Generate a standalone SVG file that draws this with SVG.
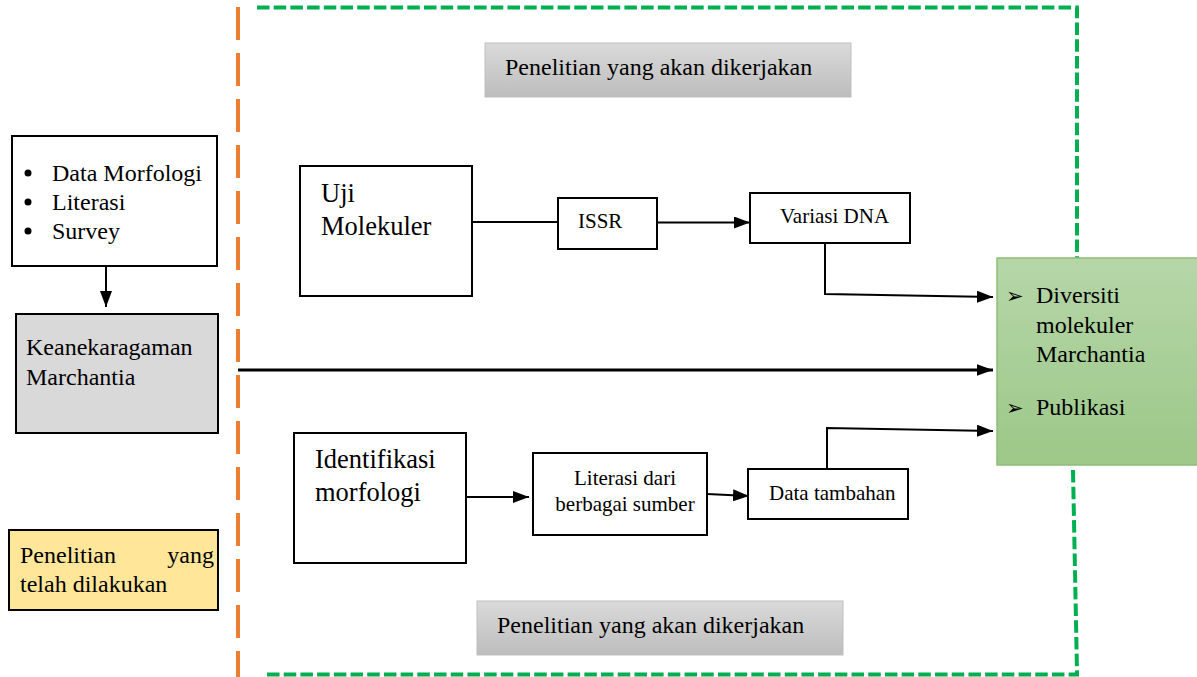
<svg xmlns="http://www.w3.org/2000/svg" width="1197" height="677" viewBox="0 0 1197 677">
<style>
.box{fill:#fff;stroke:#000;stroke-width:2}
.t{font-family:"Liberation Serif","Times New Roman",serif;fill:#000}
.c{fill:none;stroke:#000;stroke-width:2}
.b{font-family:"DejaVu Sans",sans-serif;font-size:21px;fill:#000}
</style>
<defs>
<linearGradient id="gray" x1="0" y1="0" x2="0" y2="1"><stop offset="0" stop-color="#dadada"/><stop offset="1" stop-color="#bdbdbd"/></linearGradient>
<linearGradient id="green" x1="0" y1="0" x2="0" y2="1"><stop offset="0" stop-color="#b6d6a8"/><stop offset="1" stop-color="#9cc888"/></linearGradient>
<marker id="ah" markerWidth="8" markerHeight="6" refX="8" refY="3" orient="auto" markerUnits="strokeWidth"><path d="M0,0 L8,3 L0,6 z" fill="#000"/></marker>
<marker id="ah2" markerWidth="5.5" markerHeight="4" refX="5.5" refY="2" orient="auto" markerUnits="strokeWidth"><path d="M0,0 L5.5,2 L0,4 z" fill="#000"/></marker>
</defs>
<rect width="1197" height="677" fill="#fff"/>

<g id="frames">
<line x1="238" y1="7" x2="238" y2="677" stroke="#ed7d31" stroke-width="4" stroke-dasharray="33 13"/>
<path d="M257,7.5 L1077,7.5 L1077,258" fill="none" stroke="#00b050" stroke-width="4" stroke-dasharray="12.5 4.2"/>
<path d="M1073,470 L1077,672 L1077,674.5 L267,674.5" fill="none" stroke="#00b050" stroke-width="4" stroke-dasharray="12.5 4.2"/>
</g>

<g id="connectors">
<line class="c" x1="106" y1="266" x2="106" y2="307" marker-end="url(#ah)"/>
<line x1="238" y1="370" x2="993" y2="370" stroke="#000" stroke-width="3" marker-end="url(#ah2)"/>
<line class="c" x1="472" y1="222" x2="558" y2="222"/>
<line class="c" x1="657" y1="222.5" x2="750" y2="222.5" marker-end="url(#ah)"/>
<polyline class="c" points="825,244 825,294 993,297" marker-end="url(#ah)"/>
<line class="c" x1="466" y1="497" x2="529" y2="497" marker-end="url(#ah)"/>
<line class="c" x1="707" y1="494" x2="749" y2="496" marker-end="url(#ah)"/>
<polyline class="c" points="827,469 827,428 993,431" marker-end="url(#ah)"/>
</g>

<g id="n-data">
<rect class="box" x="12" y="136" width="205" height="130"/>
<circle cx="28" cy="173" r="3.5"/><circle cx="28" cy="202" r="3.5"/><circle cx="28" cy="231" r="3.5"/>
<text class="t" font-size="24" x="52" y="181">Data Morfologi</text>
<text class="t" font-size="24" x="52" y="210">Literasi</text>
<text class="t" font-size="24" x="52" y="239">Survey</text>
</g>

<g id="n-keanekaragaman">
<rect x="16" y="314" width="202" height="119" fill="#d9d9d9" stroke="#000" stroke-width="2"/>
<text class="t" font-size="24" x="26" y="355">Keanekaragaman</text>
<text class="t" font-size="24" x="26" y="385">Marchantia</text>
</g>

<g id="n-telah">
<rect x="9" y="530" width="209" height="80" fill="#ffe699" stroke="#000" stroke-width="2"/>
<text class="t" font-size="24" x="20" y="563">Penelitian</text>
<text class="t" font-size="24" x="214" y="563" text-anchor="end">yang</text>
<text class="t" font-size="24" x="20" y="592">telah dilakukan</text>
</g>

<g id="n-akan-top">
<rect x="485" y="43" width="366" height="54" fill="url(#gray)" stroke="#bfbfbf" stroke-width="1"/>
<text class="t" font-size="24" x="505" y="75">Penelitian yang akan dikerjakan</text>
</g>

<g id="n-akan-bottom">
<rect x="477" y="601" width="366" height="54" fill="url(#gray)" stroke="#bfbfbf" stroke-width="1"/>
<text class="t" font-size="24" x="497" y="633">Penelitian yang akan dikerjakan</text>
</g>

<g id="n-uji">
<rect class="box" x="300" y="166" width="172" height="130"/>
<text class="t" font-size="26.5" x="321" y="202">Uji</text>
<text class="t" font-size="26.5" x="321" y="235">Molekuler</text>
</g>

<g id="n-issr">
<rect class="box" x="558" y="198" width="99" height="51"/>
<text class="t" font-size="21" x="578" y="228">ISSR</text>
</g>

<g id="n-variasi">
<rect class="box" x="750" y="193" width="160" height="50"/>
<text class="t" font-size="21" x="780" y="223">Variasi DNA</text>
</g>

<g id="n-identifikasi">
<rect class="box" x="294" y="433" width="172" height="130"/>
<text class="t" font-size="26.5" x="315" y="468">Identifikasi</text>
<text class="t" font-size="26.5" x="315" y="501">morfologi</text>
</g>

<g id="n-literasi">
<rect class="box" x="533" y="453" width="174" height="82"/>
<text class="t" font-size="21" x="625" y="485" text-anchor="middle">Literasi dari</text>
<text class="t" font-size="21" x="625" y="511" text-anchor="middle">berbagai sumber</text>
</g>

<g id="n-tambahan">
<rect class="box" x="748" y="469" width="160" height="50"/>
<text class="t" font-size="21" x="769" y="500">Data tambahan</text>
</g>

<g id="n-diversiti">
<rect x="997" y="258" width="202" height="207" fill="url(#green)" stroke="#8fbd78" stroke-width="1.5"/>
<text class="b" x="1006" y="303">➢</text>
<text class="t" font-size="24" x="1036" y="303">Diversiti</text>
<text class="t" font-size="24" x="1036" y="333">molekuler</text>
<text class="t" font-size="24" x="1036" y="362">Marchantia</text>
<text class="b" x="1006" y="415">➢</text>
<text class="t" font-size="24" x="1036" y="415">Publikasi</text>
</g>
</svg>
